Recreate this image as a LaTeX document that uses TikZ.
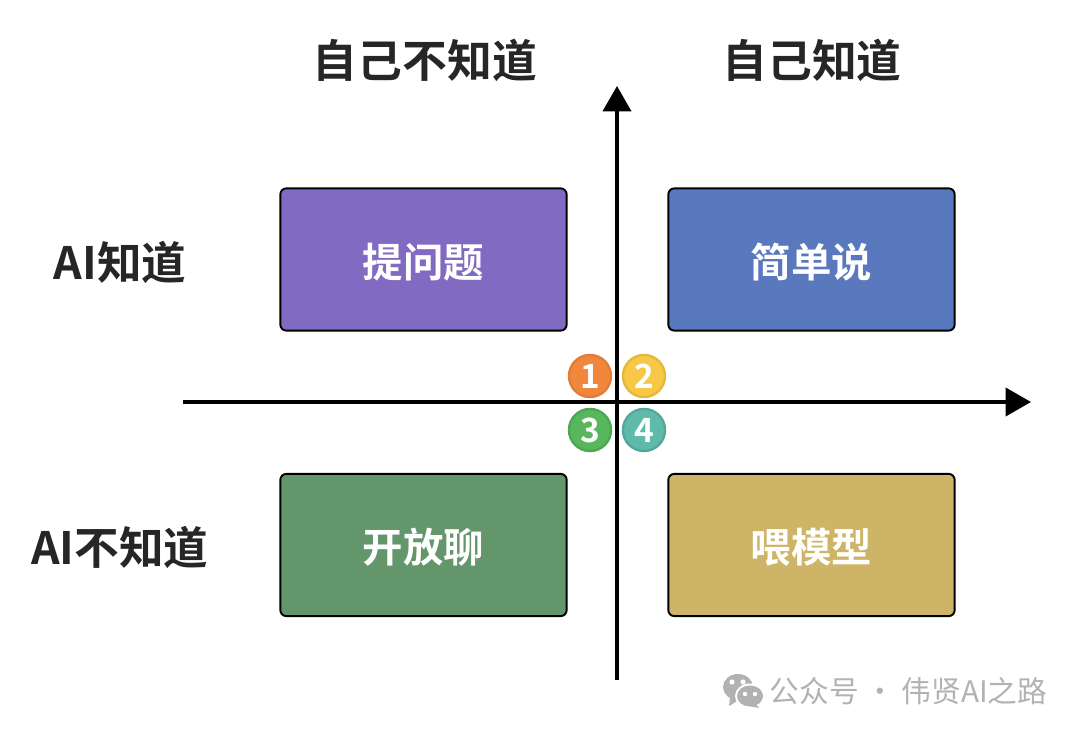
\documentclass[tikz,border=0pt]{standalone}
\usepackage{fontspec}
\setmainfont{Noto Sans CJK SC}[BoldFont={Noto Sans CJK SC Bold}]
\usepackage{xcolor}
\usetikzlibrary{arrows.meta,positioning}
\definecolor{darktext}{RGB}{38,38,38}
\definecolor{askpurple}{RGB}{129,107,194}
\definecolor{saysblue}{RGB}{90,120,190}
\definecolor{chatgreen}{RGB}{99,150,106}
\definecolor{feedgold}{RGB}{205,180,102}
\definecolor{markgray}{RGB}{178,178,178}
\definecolor{badgeorange}{RGB}{240,135,60}
\definecolor{edgeorange}{RGB}{226,125,55}
\definecolor{badgeyellow}{RGB}{247,200,70}
\definecolor{edgeyellow}{RGB}{228,184,60}
\definecolor{badgegreen}{RGB}{88,182,92}
\definecolor{edgegreen}{RGB}{76,166,82}
\definecolor{badgeteal}{RGB}{96,186,170}
\definecolor{edgeteal}{RGB}{82,166,155}
\tikzset{
    quadbox/.style={draw=black, line width=1.1pt, rounded corners=3.5pt, minimum width=163pt, minimum height=81pt, text=white, text height=22.7pt, text depth=2.3pt, font=\fontsize{23}{25}\selectfont\bfseries},
    headtext/.style={text=darktext, font=\fontsize{25.5}{28}\selectfont\bfseries},
    sidetext/.style={text=darktext, font=\fontsize{25.4}{28}\selectfont\bfseries},
    axisline/.style={line width=2.3pt, -{Triangle[length=14.5pt,width=16pt]}},
    badge/.style={circle, minimum size=24pt, inner sep=0pt, line width=1.3pt, text=white, font=\fontsize{19}{21}\selectfont\bfseries},
    marktext/.style={text=markgray, font=\fontsize{16.9}{18}\selectfont},
}
\begin{document}
\begin{tikzpicture}[x=0.02cm,y=0.02cm]
    \useasboundingbox (0,0) rectangle (1080,735);

    % Axes
    \coordinate (xstart) at (183,333);
    \coordinate (xend) at (1031,333);
    \coordinate (ystart) at (617,55);
    \coordinate (yend) at (617,649);
    \draw[axisline] (xstart) -- (xend);
    \draw[axisline] (ystart) -- (yend);

    % Headings
    \node[headtext] (notself) at (425,675) {自己不知道};
    \node[headtext] (self) at (812,675) {自己知道};
    \node[sidetext] (aiyes) at (120,473) {AI知道};
    \node[sidetext] (aino) at (120,188) {AI不知道};

    % Quadrants
    \node[quadbox, fill=askpurple] (ask) at (423.5,475.5) {提问题};
    \node[quadbox, fill=saysblue] (say) at (811.5,475.5) {简单说};
    \node[quadbox, fill=chatgreen] (chat) at (423.5,190) {开放聊};
    \node[quadbox, fill=feedgold] (feed) at (811.5,190) {喂模型};

    % Badges
    \node[badge, fill=badgeorange, draw=edgeorange] (one) at (590,359) {1};
    \node[badge, fill=badgeyellow, draw=edgeyellow] (two) at (644,359) {2};
    \node[badge, fill=badgegreen, draw=edgegreen] (three) at (590,305) {3};
    \node[badge, fill=badgeteal, draw=edgeteal] (four) at (644,305) {4};

    % Watermark
    \fill[markgray] (738,48) ellipse (15 and 13);
    \fill[markgray] (730,37) -- (729,29) -- (739,35) -- cycle;
    \fill[white] (750,39) ellipse (15 and 12.5);
    \fill[markgray] (750,39) ellipse (13 and 10.5);
    \fill[markgray] (756,31) -- (759,27) -- (749,29) -- cycle;
    \fill[white] (732,53) circle (2.6) (743,53) circle (2.6);
    \fill[white] (745,41) circle (2.2) (755,41) circle (2.2);
    \node[marktext] (mark) at (908.5,44) {公众号 · 伟贤AI之路};
\end{tikzpicture}
\end{document}
